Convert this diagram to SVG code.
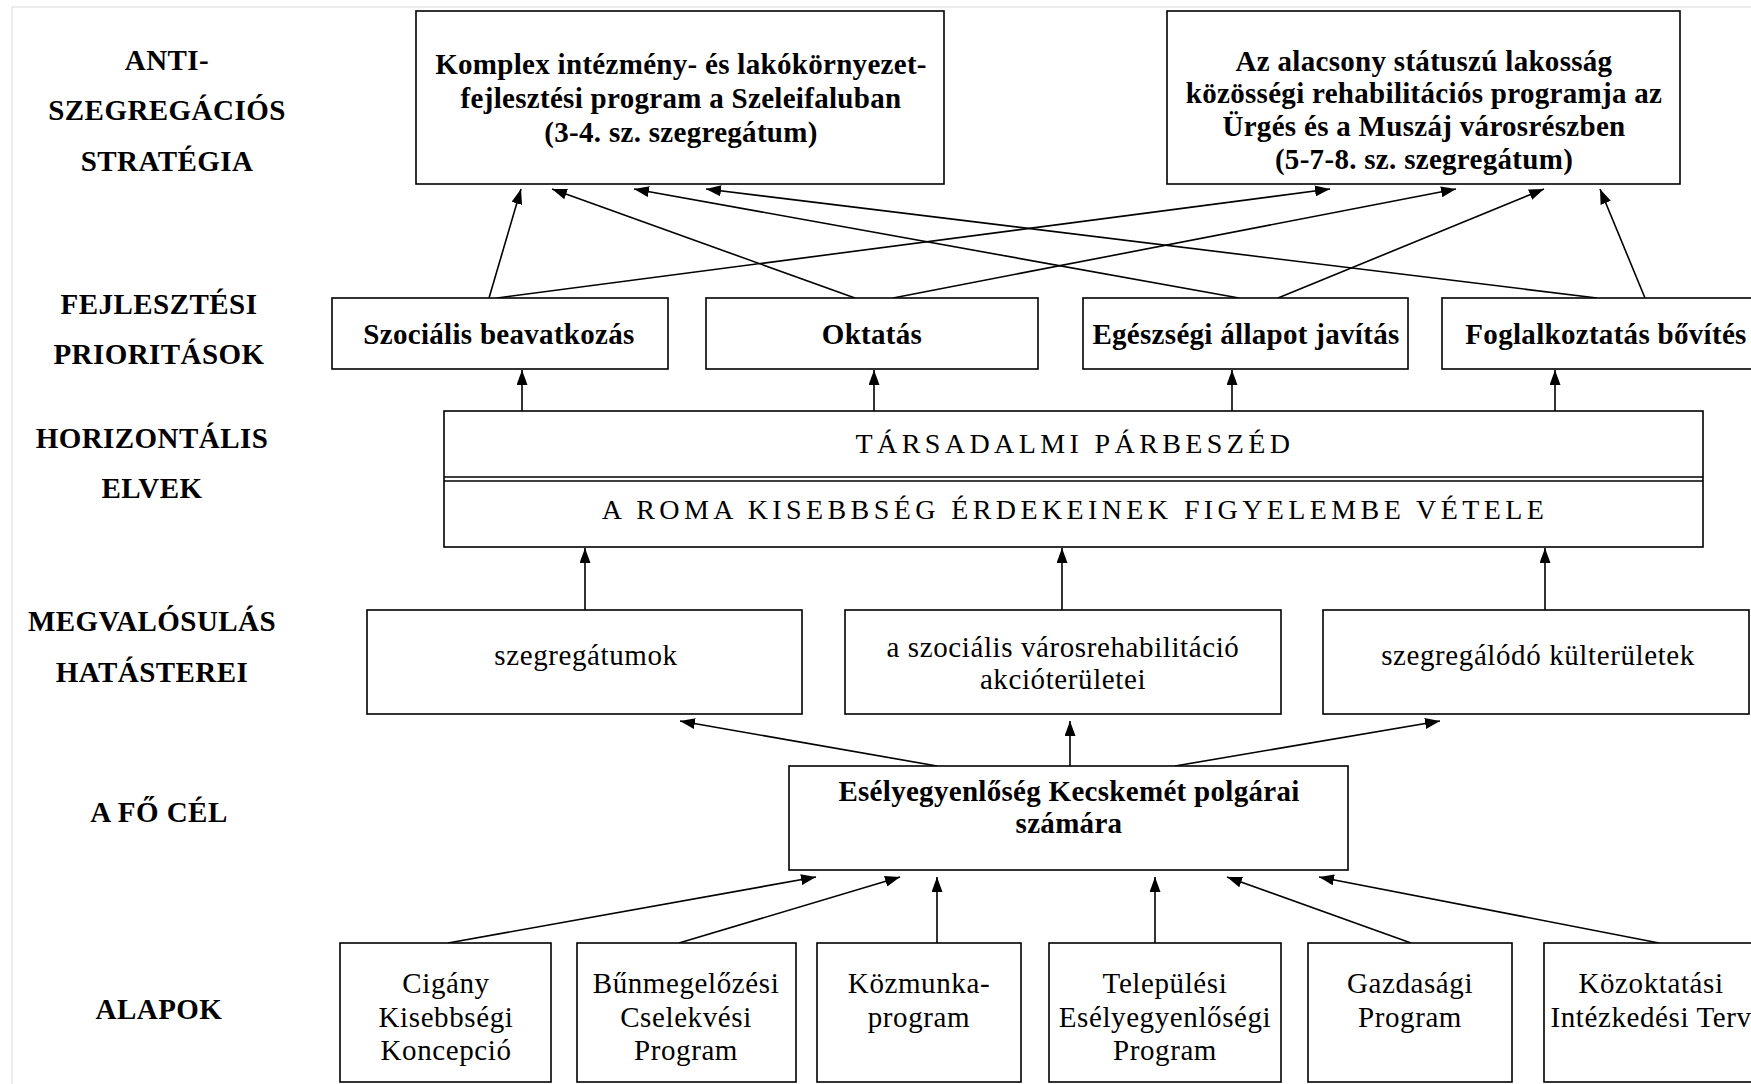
<svg xmlns="http://www.w3.org/2000/svg" width="1751" height="1084" viewBox="0 0 1751 1084">
<style>
.bg{fill:#fff}
.frame{stroke:#e6e6e6;stroke-width:1.5;fill:none}
.box{fill:#fff;stroke:#000;stroke-width:1.6}
.lbl{font-family:"Liberation Serif","Times New Roman",serif;font-weight:bold;font-size:29px;letter-spacing:0.45px;text-anchor:middle;fill:#000}
.bt{font-family:"Liberation Serif","Times New Roman",serif;font-weight:bold;font-size:29px;letter-spacing:0.3px;text-anchor:middle;fill:#000}
.rt{font-family:"Liberation Serif","Times New Roman",serif;font-size:29px;letter-spacing:0.6px;text-anchor:middle;fill:#000}
.ht{font-family:"Liberation Serif","Times New Roman",serif;font-size:28px;letter-spacing:4.4px;text-anchor:middle;fill:#000}
.con line{stroke:#000;stroke-width:1.6;marker-end:url(#ah)}
</style>
<defs>
<marker id="ah" viewBox="0 0 15 11" refX="15" refY="5.5" markerWidth="15" markerHeight="11" markerUnits="userSpaceOnUse" orient="auto">
<path d="M0,0 L15,5.5 L0,11 z" fill="#000"/>
</marker>
</defs>
<rect class="bg" x="0" y="0" width="1751" height="1084"/>
<path class="frame" d="M12,1084 L12,7 L1751,7"/>

<g id="labels">
<text class="lbl" x="167" y="70">ANTI-</text>
<text class="lbl" x="167" y="120">SZEGREGÁCIÓS</text>
<text class="lbl" x="167" y="171">STRATÉGIA</text>
<text class="lbl" x="159" y="314">FEJLESZTÉSI</text>
<text class="lbl" x="159" y="364">PRIORITÁSOK</text>
<text class="lbl" x="152" y="448">HORIZONTÁLIS</text>
<text class="lbl" x="152" y="498">ELVEK</text>
<text class="lbl" x="152" y="631">MEGVALÓSULÁS</text>
<text class="lbl" x="152" y="682">HATÁSTEREI</text>
<text class="lbl" x="159" y="822">A FŐ CÉL</text>
<text class="lbl" x="159" y="1019">ALAPOK</text>
</g>

<g id="connectors" class="con">
<line x1="489" y1="298" x2="521" y2="189"/>
<line x1="497" y1="298" x2="1330" y2="189"/>
<line x1="855" y1="298" x2="552" y2="189"/>
<line x1="893" y1="298" x2="1456" y2="189"/>
<line x1="1239" y1="298" x2="634" y2="189"/>
<line x1="1278" y1="298" x2="1544" y2="189"/>
<line x1="1597" y1="298" x2="706" y2="189"/>
<line x1="1645" y1="298" x2="1600" y2="189"/>
<line x1="522" y1="411" x2="522" y2="370"/>
<line x1="874" y1="411" x2="874" y2="370"/>
<line x1="1232" y1="411" x2="1232" y2="370"/>
<line x1="1555" y1="411" x2="1555" y2="370"/>
<line x1="585" y1="610" x2="585" y2="548"/>
<line x1="1062" y1="610" x2="1062" y2="548"/>
<line x1="1545" y1="610" x2="1545" y2="548"/>
<line x1="937" y1="766" x2="680" y2="721"/>
<line x1="1070" y1="766" x2="1070" y2="721"/>
<line x1="1175" y1="766" x2="1440" y2="721"/>
<line x1="448" y1="943" x2="816" y2="877"/>
<line x1="679" y1="943" x2="900" y2="877"/>
<line x1="937" y1="943" x2="937" y2="877"/>
<line x1="1155" y1="943" x2="1155" y2="877"/>
<line x1="1411" y1="943" x2="1227" y2="877"/>
<line x1="1659" y1="943" x2="1319" y2="877"/>
</g>

<g id="strat-szeleifalu">
<rect class="box" x="416" y="11" width="528" height="173"/>
<text class="bt" x="681" y="74">Komplex intézmény- és lakókörnyezet-</text>
<text class="bt" x="681" y="108">fejlesztési program a Szeleifaluban</text>
<text class="bt" x="681" y="142">(3-4. sz. szegregátum)</text>
</g>
<g id="strat-urges-muszaj">
<rect class="box" x="1167" y="11" width="513" height="173"/>
<text class="bt" x="1424" y="70.5">Az alacsony státuszú lakosság</text>
<text class="bt" x="1424" y="103">közösségi rehabilitációs programja az</text>
<text class="bt" x="1424" y="135.5">Ürgés és a Muszáj városrészben</text>
<text class="bt" x="1424" y="168.5">(5-7-8. sz. szegregátum)</text>
</g>

<g id="prio-szocialis">
<rect class="box" x="332" y="298" width="336" height="71"/>
<text class="bt" x="499" y="344">Szociális beavatkozás</text>
</g>
<g id="prio-oktatas">
<rect class="box" x="706" y="298" width="332" height="71"/>
<text class="bt" x="872" y="344">Oktatás</text>
</g>
<g id="prio-egeszseg">
<rect class="box" x="1083" y="298" width="325" height="71"/>
<text class="bt" x="1246" y="344">Egészségi állapot javítás</text>
</g>
<g id="prio-foglalkoztatas">
<rect class="box" x="1442" y="298" width="320" height="71"/>
<text class="bt" x="1606" y="344">Foglalkoztatás bővítés</text>
</g>

<g id="horizontal-principles">
<rect class="box" x="444" y="411" width="1259" height="136"/>
<line x1="444" y1="477" x2="1703" y2="477" stroke="#000" stroke-width="1.6"/>
<line x1="444" y1="481" x2="1703" y2="481" stroke="#000" stroke-width="1.6"/>
<text class="ht" x="1075" y="453">TÁRSADALMI PÁRBESZÉD</text>
<text class="ht" x="1075" y="519">A ROMA KISEBBSÉG ÉRDEKEINEK FIGYELEMBE VÉTELE</text>
</g>

<g id="area-szegregatumok">
<rect class="box" x="367" y="610" width="435" height="104"/>
<text class="rt" x="586" y="665">szegregátumok</text>
</g>
<g id="area-akcioteruletek">
<rect class="box" x="845" y="610" width="436" height="104"/>
<text class="rt" x="1063" y="657">a szociális városrehabilitáció</text>
<text class="rt" x="1063" y="689">akcióterületei</text>
</g>
<g id="area-kulteruletek">
<rect class="box" x="1323" y="610" width="426" height="104"/>
<text class="rt" x="1538" y="665">szegregálódó külterületek</text>
</g>

<g id="main-goal">
<rect class="box" x="789" y="766" width="559" height="104"/>
<text class="bt" x="1069" y="801">Esélyegyenlőség Kecskemét polgárai</text>
<text class="bt" x="1069" y="833">számára</text>
</g>

<g id="base-cigany">
<rect class="box" x="340" y="943" width="211" height="139"/>
<text class="rt" x="446" y="993">Cigány</text>
<text class="rt" x="446" y="1027">Kisebbségi</text>
<text class="rt" x="446" y="1060">Koncepció</text>
</g>
<g id="base-bunmegelozes">
<rect class="box" x="577" y="943" width="219" height="139"/>
<text class="rt" x="686" y="993">Bűnmegelőzési</text>
<text class="rt" x="686" y="1027">Cselekvési</text>
<text class="rt" x="686" y="1060">Program</text>
</g>
<g id="base-kozmunka">
<rect class="box" x="817" y="943" width="204" height="139"/>
<text class="rt" x="919" y="993">Közmunka-</text>
<text class="rt" x="919" y="1027">program</text>
</g>
<g id="base-telepulesi">
<rect class="box" x="1049" y="943" width="232" height="139"/>
<text class="rt" x="1165" y="993">Települési</text>
<text class="rt" x="1165" y="1027">Esélyegyenlőségi</text>
<text class="rt" x="1165" y="1060">Program</text>
</g>
<g id="base-gazdasagi">
<rect class="box" x="1308" y="943" width="204" height="139"/>
<text class="rt" x="1410" y="993">Gazdasági</text>
<text class="rt" x="1410" y="1027">Program</text>
</g>
<g id="base-kozoktatasi">
<rect class="box" x="1544" y="943" width="230" height="139"/>
<text class="rt" x="1651" y="993">Közoktatási</text>
<text class="rt" x="1651" y="1027">Intézkedési Terv</text>
</g>
</svg>
